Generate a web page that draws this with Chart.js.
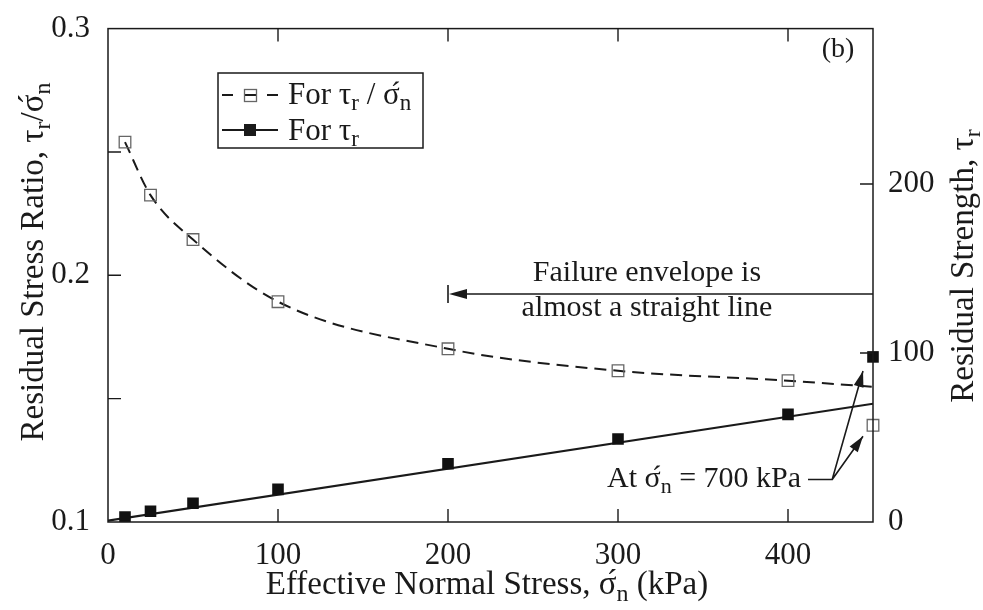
<!DOCTYPE html>
<html>
<head>
<meta charset="utf-8">
<script src="https://cdn.jsdelivr.net/npm/chart.js@4.4.0/dist/chart.umd.min.js"></script>
<style>
  html, body { margin: 0; padding: 0; background: #fff; }
  #wrap { width: 983px; height: 610px; }
</style>
</head>
<body>
<div id="wrap"><canvas id="stressChart" width="983" height="610"></canvas></div>
<script>
// Ring shear tests: effective normal stress (kPa)
const stressLevels = [10, 25, 50, 100, 200, 300, 400];
// Residual stress ratio tau_r / sigma'_n
const stressRatio = [0.254, 0.2325, 0.2145, 0.1893, 0.1702, 0.1613, 0.1573];
// Residual strength tau_r (kPa)
const residualStrength = [2.9, 6.4, 11.1, 19.3, 34.5, 49.1, 63.7];

// Dashed trend of the ratio runs on to the edge of the plot
const ratioCurveEndX = 450;
const ratioCurveEndY = 0.1548;
// Straight failure envelope
const envelopeX = [0, 450];
const envelopeY = [0.8, 70];

// The 700 kPa test sits on the right edge
const highStressX = 450;
const highStressRatio = 0.1392;
const highStressStrength = 97.7;

// Axis ticks
const xTicks = [0, 100, 200, 300, 400];
const ratioTicks = [0.1, 0.2, 0.3];
const strengthTicks = [0, 100, 200];
const xInnerTicks = [100, 200, 300, 400];
const ratioInnerTicks = [0.15, 0.2, 0.25];
const strengthInnerTicks = [100, 200];

const serif = '"Liberation Serif", "Times New Roman", serif';
const ink = '#1a1a1a';

function pts(xs, ys) {
    return xs.map((x, i) => ({ x: x, y: ys[i] }));
}

// Text with subscripts and primes: parts are {t, sub, prime}
function richText(c, parts, x, y, size, align) {
    const fontFor = p => (p.sub ? Math.round(size * 0.74) : size) + 'px ' + serif;
    const widths = parts.map(p => {
        c.font = fontFor(p);
        return p.prime ? 0 : c.measureText(p.t).width;
    });
    const total = widths.reduce((a, b) => a + b, 0);
    let cx = align === 'center' ? x - total / 2 : (align === 'right' ? x - total : x);
    c.textAlign = 'left';
    c.textBaseline = 'alphabetic';
    parts.forEach((p, i) => {
        c.font = fontFor(p);
        if (p.prime) {
            c.fillText(p.t, cx - size * 0.3, y - size * 0.02);
        } else {
            c.fillText(p.t, cx, y + (p.sub ? size * 0.2 : 0));
        }
        cx += widths[i];
    });
}

const tauR = [{ t: '\u03c4' }, { t: 'r', sub: true }];
const sigmaN = [{ t: '\u03c3' }, { t: '\u00b4', prime: true }, { t: 'n', sub: true }];

function arrowHead(c, x0, y0, x1, y1, len, half) {
    const a = Math.atan2(y1 - y0, x1 - x0);
    c.beginPath();
    c.moveTo(x1, y1);
    c.lineTo(x1 - len * Math.cos(a) + half * Math.sin(a), y1 - len * Math.sin(a) - half * Math.cos(a));
    c.lineTo(x1 - len * Math.cos(a) - half * Math.sin(a), y1 - len * Math.sin(a) + half * Math.cos(a));
    c.closePath();
    c.fill();
}

const decorations = {
    id: 'decorations',
    afterDraw(chart) {
        const c = chart.ctx;
        const a = chart.chartArea;
        const sx = chart.scales.x, sy = chart.scales.y, sy2 = chart.scales.y2;
        c.save();
        c.strokeStyle = ink;
        c.fillStyle = ink;

        // Frame
        c.lineWidth = 1.5;
        c.strokeRect(a.left, a.top, a.right - a.left, a.bottom - a.top);

        // Inward ticks
        const tl = 13;
        c.lineWidth = 1.4;
        c.beginPath();
        xInnerTicks.forEach(v => {
            const px = sx.getPixelForValue(v);
            c.moveTo(px, a.bottom); c.lineTo(px, a.bottom - tl);
            c.moveTo(px, a.top); c.lineTo(px, a.top + tl);
        });
        ratioInnerTicks.forEach(v => {
            const py = sy.getPixelForValue(v);
            c.moveTo(a.left, py); c.lineTo(a.left + tl, py);
        });
        strengthInnerTicks.forEach(v => {
            const py = sy2.getPixelForValue(v);
            c.moveTo(a.right, py); c.lineTo(a.right - tl, py);
        });
        c.stroke();

        // Panel tag
        c.font = '28px ' + serif;
        c.textAlign = 'center';
        c.fillText('(b)', 838, 57);

        // Failure envelope note with arrow back to 200 kPa
        const ay = sy.getPixelForValue(0.1924);
        const ax = sx.getPixelForValue(200);
        c.lineWidth = 1.6;
        c.beginPath();
        c.moveTo(a.right, ay); c.lineTo(ax + 10, ay);
        c.moveTo(ax, ay - 9); c.lineTo(ax, ay + 9);
        c.stroke();
        arrowHead(c, a.right, ay, ax + 1, ay, 18, 5);
        c.font = '30px ' + serif;
        c.textAlign = 'center';
        c.fillText('Failure envelope is', 647, 281);
        c.fillText('almost a straight line', 647, 316);

        // 700 kPa label with leaders to both points
        richText(c, [{ t: 'At ' }].concat(sigmaN, [{ t: ' = 700 kPa' }]), 607, 487, 30, 'left');
        const bx = sx.getPixelForValue(426), by = sy.getPixelForValue(0.1172);
        const p1x = sx.getPixelForValue(highStressX) - 10, p1y = sy2.getPixelForValue(highStressStrength) + 14;
        const p2x = sx.getPixelForValue(highStressX) - 10, p2y = sy.getPixelForValue(highStressRatio) + 11;
        c.lineWidth = 1.6;
        c.beginPath();
        c.moveTo(808, by); c.lineTo(bx, by);
        c.lineTo(p1x, p1y);
        c.moveTo(bx, by); c.lineTo(p2x, p2y);
        c.stroke();
        arrowHead(c, bx, by, p1x, p1y, 16, 5);
        arrowHead(c, bx, by, p2x, p2y, 16, 5);

        // Legend
        c.lineWidth = 1.5;
        c.strokeRect(218, 73, 205, 75);
        c.lineWidth = 1.9;
        c.beginPath();
        c.moveTo(222, 95); c.lineTo(233, 95);
        c.moveTo(244, 95); c.lineTo(256, 95);
        c.moveTo(267, 95); c.lineTo(278, 95);
        c.stroke();
        c.lineWidth = 1.3;
        c.strokeStyle = '#666';
        c.strokeRect(244.5, 89.5, 12, 12);
        c.strokeStyle = ink;
        c.lineWidth = 2;
        c.beginPath();
        c.moveTo(222, 130); c.lineTo(278, 130);
        c.stroke();
        c.fillRect(244, 124, 12, 12);
        richText(c, [{ t: 'For ' }].concat(tauR, [{ t: ' / ' }], sigmaN), 288, 104, 31, 'left');
        richText(c, [{ t: 'For ' }].concat(tauR), 288, 140, 31, 'left');

        // Axis titles
        richText(c, [{ t: 'Effective Normal Stress, ' }].concat(sigmaN, [{ t: ' (kPa)' }]), 487, 594, 33, 'center');

        c.save();
        c.translate(43, 262);
        c.rotate(-Math.PI / 2);
        richText(c, [{ t: 'Residual Stress Ratio, ' }].concat(tauR, [{ t: '/' }], sigmaN), 0, 0, 33, 'center');
        c.restore();

        c.save();
        c.translate(973, 266);
        c.rotate(-Math.PI / 2);
        richText(c, [{ t: 'Residual Strength, ' }].concat(tauR), 0, 0, 33, 'center');
        c.restore();

        c.restore();
    }
};

const tickFont = { family: serif, size: 31 };

const ctx = document.getElementById('stressChart').getContext('2d');
const stressChart = new Chart(ctx, {
    type: 'scatter',
    data: {
        datasets: [
            {
                label: 'ratio',
                data: pts(stressLevels, stressRatio),
                yAxisID: 'y',
                pointStyle: 'rect',
                pointRadius: 8.2,
                pointBackgroundColor: 'rgba(0,0,0,0)',
                pointBorderColor: '#666',
                pointBorderWidth: 1.3,
                order: 0
            },
            {
                label: 'strength',
                data: pts(stressLevels, residualStrength),
                yAxisID: 'y2',
                pointStyle: 'rect',
                pointRadius: 8.2,
                pointBackgroundColor: '#111',
                pointBorderColor: '#111',
                pointBorderWidth: 0,
                order: 0
            },
            {
                label: 'ratio trend',
                data: pts(stressLevels.concat([ratioCurveEndX]), stressRatio.concat([ratioCurveEndY])),
                yAxisID: 'y',
                showLine: true,
                pointRadius: 0,
                borderColor: ink,
                borderWidth: 2,
                borderDash: [12, 7],
                cubicInterpolationMode: 'monotone',
                order: 1
            },
            {
                label: 'envelope',
                data: pts(envelopeX, envelopeY),
                yAxisID: 'y2',
                showLine: true,
                pointRadius: 0,
                borderColor: ink,
                borderWidth: 2.2,
                order: 1
            },
            {
                label: 'ratio 700 kPa',
                data: [{ x: highStressX, y: highStressRatio }],
                yAxisID: 'y',
                pointStyle: 'rect',
                pointRadius: 8.2,
                pointBackgroundColor: 'rgba(0,0,0,0)',
                pointBorderColor: '#666',
                pointBorderWidth: 1.3,
                clip: false,
                order: 0
            },
            {
                label: 'strength 700 kPa',
                data: [{ x: highStressX, y: highStressStrength }],
                yAxisID: 'y2',
                pointStyle: 'rect',
                pointRadius: 8.2,
                pointBackgroundColor: '#111',
                pointBorderColor: '#111',
                pointBorderWidth: 0,
                clip: false,
                order: 0
            }
        ]
    },
    options: {
        responsive: false,
        animation: false,
        layout: { padding: { top: 22, left: 0, right: 0, bottom: 0 } },
        plugins: {
            legend: { display: false },
            tooltip: { enabled: false }
        },
        scales: {
            x: {
                type: 'linear',
                min: 0,
                max: 450,
                afterBuildTicks: s => { s.ticks = xTicks.map(v => ({ value: v })); },
                afterFit: s => { s.height = 88; },
                grid: { display: false },
                border: { display: false },
                ticks: { font: tickFont, color: ink, padding: 7, maxRotation: 0, autoSkip: false }
            },
            y: {
                position: 'left',
                min: 0.1,
                max: 0.3,
                afterBuildTicks: s => { s.ticks = ratioTicks.map(v => ({ value: v })); },
                afterFit: s => { s.width = 108; },
                grid: { display: false },
                border: { display: false },
                ticks: { font: tickFont, color: ink, padding: 10, callback: v => v.toFixed(1) }
            },
            y2: {
                position: 'right',
                min: 0,
                max: 292,
                afterBuildTicks: s => { s.ticks = strengthTicks.map(v => ({ value: v })); },
                afterFit: s => { s.width = 110; },
                grid: { display: false },
                border: { display: false },
                ticks: { font: tickFont, color: ink, padding: 7 }
            }
        }
    },
    plugins: [decorations]
});
</script>
</body>
</html>
